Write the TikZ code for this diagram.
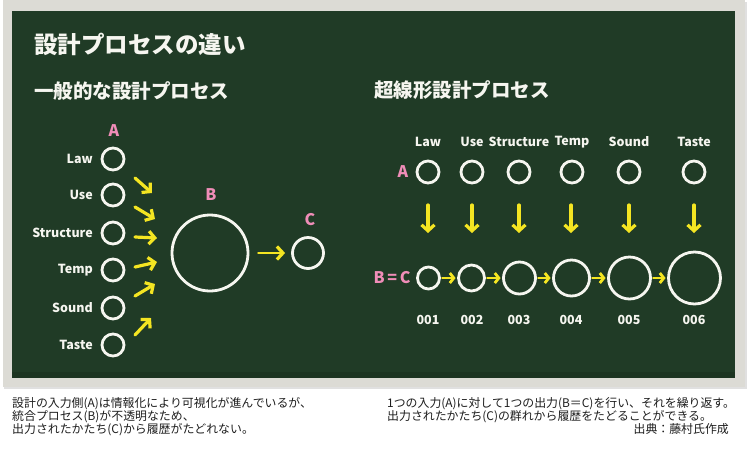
\documentclass[tikz,border=0pt]{standalone}
\usepackage{fontspec}
\newfontfamily\jp{Noto Sans CJK JP}
\usetikzlibrary{arrows.meta}
\definecolor{board}{HTML}{203B26}
\definecolor{frame}{HTML}{DCDBD5}
\definecolor{chalk}{HTML}{F6F6F0}
\definecolor{chalkpink}{HTML}{F08DB8}
\definecolor{chalkyellow}{HTML}{F4E522}
\definecolor{captext}{HTML}{1E1E1E}
\tikzset{
  ring/.style={circle, draw=chalk, line width=2.8pt, inner sep=0pt, minimum size=#1},
  lbl/.style={text=chalk, font=\jp\bfseries\fontsize{12.5}{14}\selectfont, inner sep=0pt},
  plbl/.style={text=chalkpink, font=\jp\bfseries\fontsize{16}{17}\selectfont, inner sep=0pt},
  head/.style={text=chalk, font=\jp\bfseries\fontsize{#1}{#1}\selectfont, inner sep=0pt, anchor=west},
  yarrow/.style={draw=chalkyellow, line width=3.2pt, line cap=round, line join=round,
    -{Straight Barb[length=6pt,width=13pt,line width=3.2pt]}},
  sarrow/.style={draw=chalkyellow, line width=2.8pt, line cap=round, line join=round,
    -{Straight Barb[length=4pt,width=10pt,line width=2.8pt]}, shorten <=1.5pt, shorten >=1.5pt},
  captxt/.style={text=captext, font=\jp\fontsize{11.9}{13}\selectfont, inner sep=0pt, align=left}
}
\begin{document}
\begin{tikzpicture}[x=1pt,y=-1pt]
\useasboundingbox (0,0) rectangle (750,456);
\fill[white] (0,0) rectangle (750,456);
% frame
\fill[black!12] (4,2) rectangle (747,389);
\fill[frame] (3,0) rectangle (745,387);
\fill[board] (12,11) rectangle (735,378);
\fill[board!80!black, opacity=0.5] (12,372) rectangle (735,378);
% headings
\node[head=23.5] (title) at (34,44) {設計プロセスの違い};
\node[head=19.5] (h1) at (34,91) {一般的な設計プロセス};
\node[head=19.5] (h2) at (374,90) {超線形設計プロセス};

% ---------- left diagram ----------
\node[plbl] (lA) at (114,131) {A};
\node[ring=22] (a1) at (113,159) {};
\node[ring=22] (a2) at (113,195) {};
\node[ring=22] (a3) at (113,233) {};
\node[ring=22] (a4) at (113,270) {};
\node[ring=22] (a5) at (113,308) {};
\node[ring=22] (a6) at (113,345) {};
\node[lbl, anchor=east] (t1) at (93,159) {Law};
\node[lbl, anchor=east] (t2) at (93,195) {Use};
\node[lbl, anchor=east] (t3) at (93,233) {Structure};
\node[lbl, anchor=east] (t4) at (93,270) {Temp};
\node[lbl, anchor=east] (t5) at (93,308) {Sound};
\node[lbl, anchor=east] (t6) at (93,345) {Taste};
\node[ring=76] (B) at (210,253) {};
\node[plbl] (lB) at (211,195) {B};
\node[ring=31] (C) at (308,253) {};
\node[plbl] (lC) at (310,220) {C};
\coordinate (p1s) at (135,178); \coordinate (p1e) at (152,193);
\coordinate (p2s) at (135,207); \coordinate (p2e) at (155,219);
\coordinate (p3s) at (135,237); \coordinate (p3e) at (157,238);
\coordinate (p4s) at (135,267); \coordinate (p4e) at (157,262);
\coordinate (p5s) at (135,296); \coordinate (p5e) at (155,284);
\coordinate (p6s) at (135,335); \coordinate (p6e) at (151,318);
\draw[yarrow] (p1s) -- (p1e);
\draw[yarrow] (p2s) -- (p2e);
\draw[yarrow] (p3s) -- (p3e);
\draw[yarrow] (p4s) -- (p4e);
\draw[yarrow] (p5s) -- (p5e);
\draw[yarrow] (p6s) -- (p6e);
\draw[yarrow, line width=2.8pt, shorten <=9pt, shorten >=6pt] (B) -- (C);

% ---------- right diagram ----------
\node[lbl] (u1) at (428,142) {Law};
\node[lbl] (u2) at (472,142) {Use};
\node[lbl] (u3) at (519,142) {Structure};
\node[lbl] (u4) at (572,142) {Temp};
\node[lbl] (u5) at (629,142) {Sound};
\node[lbl] (u6) at (694,142) {Taste};
\node[plbl] (rA) at (403,172) {A};
\node[ring=22] (r1) at (428,172) {};
\node[ring=22] (r2) at (472,172) {};
\node[ring=22] (r3) at (519,172) {};
\node[ring=22] (r4) at (572,172) {};
\node[ring=22] (r5) at (629,172) {};
\node[ring=22] (r6) at (694,172) {};
\foreach \i/\x in {1/428,2/472,3/519,4/571,5/629,6/694}{
  \coordinate (d\i s) at (\x,205);
  \coordinate (d\i e) at (\x,233);
  \draw[yarrow] (d\i s) -- (d\i e);
}
\node[plbl] (rBC) at (392,278) {B\,=\,C};
\node[ring=22] (s1) at (428.5,278) {};
\node[ring=26] (s2) at (471.5,278) {};
\node[ring=32] (s3) at (519.5,278) {};
\node[ring=36] (s4) at (571.5,278) {};
\node[ring=42] (s5) at (629.5,278) {};
\node[ring=52] (s6) at (694.5,278) {};
\draw[sarrow] (s1) -- (s2);
\draw[sarrow] (s2) -- (s3);
\draw[sarrow] (s3) -- (s4);
\draw[sarrow] (s4) -- (s5);
\draw[sarrow] (s5) -- (s6);
\node[lbl] (n1) at (428,320) {001};
\node[lbl] (n2) at (472,320) {002};
\node[lbl] (n3) at (519,320) {003};
\node[lbl] (n4) at (571,320) {004};
\node[lbl] (n5) at (629,320) {005};
\node[lbl] (n6) at (694,320) {006};

% ---------- captions ----------
\node[captxt, anchor=north west] (capL) at (12,397.5) {設計の入力側(A)は情報化により可視化が進んでいるが、\\統合プロセス(B)が不透明なため、\\出力されたかたち(C)から履歴がたどれない。};
\node[captxt, anchor=north west] (capR) at (387,397.5) {1つの入力(A)に対して1つの出力(B＝C)を行い、それを繰り返す。\\出力されたかたち(C)の群れから履歴をたどることができる。};
\node[captxt, anchor=north east] (src) at (729,423.5) {出典：藤村氏作成};
\end{tikzpicture}
\end{document}
